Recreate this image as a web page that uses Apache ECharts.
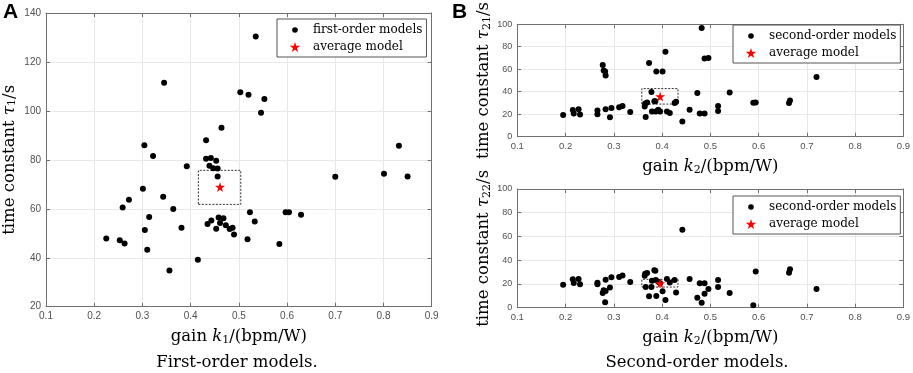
<!DOCTYPE html>
<html>
<head>
<meta charset="utf-8">
<script src="https://cdn.jsdelivr.net/npm/echarts@6/dist/echarts.min.js"></script>
<style>
  html, body { margin: 0; padding: 0; background: #fff; }
  #chart { width: 913px; height: 373px; }
</style>
</head>
<body>
<div id="chart"></div>
<script>
// ── Panel A: first-order models ───────────────────────────────
const k1 = [0.535, 0.345, 0.503, 0.520, 0.553, 0.546, 0.464, 0.432, 0.304, 0.832,
  0.322, 0.432, 0.442, 0.453, 0.392, 0.439, 0.447, 0.456, 0.456, 0.700,
  0.801, 0.850, 0.301, 0.272, 0.343, 0.259, 0.364, 0.523, 0.597, 0.604,
  0.629, 0.458, 0.468, 0.314, 0.443, 0.533, 0.461, 0.435, 0.473, 0.381,
  0.487, 0.481, 0.453, 0.305, 0.490, 0.225, 0.253, 0.518, 0.263, 0.584,
  0.310, 0.415, 0.356]
const tau1 = [130.4, 111.5, 107.6, 106.6, 104.9, 99.2, 93.1, 88.0, 86.0, 85.8,
  81.6, 80.4, 80.8, 79.6, 77.4, 77.6, 76.6, 76.5, 73.2, 73.1,
  74.3, 73.2, 68.2, 63.7, 64.9, 60.5, 59.9, 58.6, 58.6, 58.6,
  57.6, 56.4, 56.1, 56.7, 55.2, 54.8, 54.2, 53.8, 53.3, 52.3,
  52.3, 51.7, 51.8, 51.3, 49.5, 47.9, 47.2, 47.6, 45.8, 45.6,
  43.3, 39.2, 34.8]
const avgA = [0.461, 68.9]
const boxAk = [0.416, 0.504]
const boxAtau = [61.8, 75.7]

// ── Panel B: second-order models (same k2 for both time constants) ──
const k2 = [0.195, 0.215, 0.217, 0.227, 0.230, 0.266, 0.266, 0.283, 0.277, 0.279,
  0.282, 0.283, 0.292, 0.295, 0.311, 0.318, 0.334, 0.364, 0.365, 0.369,
  0.366, 0.373, 0.378, 0.379, 0.384, 0.386, 0.387, 0.392, 0.396, 0.388,
  0.401, 0.407, 0.410, 0.416, 0.426, 0.429, 0.442, 0.457, 0.473, 0.478,
  0.482, 0.488, 0.488, 0.496, 0.516, 0.516, 0.540, 0.589, 0.594, 0.663,
  0.665, 0.720]
const tau21 = [19.4, 23.7, 20.6, 24.5, 19.7, 23.4, 20.0, 24.5, 63.7, 58.9,
  58.0, 54.4, 17.2, 25.6, 26.2, 27.3, 22.0, 26.8, 29.6, 30.4,
  17.5, 65.6, 39.7, 22.5, 31.5, 31.5, 22.5, 23.9, 22.5, 58.0,
  58.0, 75.5, 22.5, 21.1, 29.9, 31.0, 13.5, 23.9, 38.9, 20.6,
  96.6, 20.6, 69.6, 70.1, 27.3, 22.8, 39.2, 30.2, 30.4, 29.9,
  32.1, 53.2]
const tau22 = [19.4, 23.9, 20.8, 24.2, 19.7, 21.1, 19.7, 23.6, 12.4, 14.6,
  4.5, 14.0, 17.1, 25.6, 25.8, 27.2, 21.6, 27.0, 28.7, 29.2,
  17.4, 9.6, 17.4, 22.8, 31.5, 31.2, 23.3, 21.9, 20.5, 9.8,
  13.8, 6.5, 24.2, 21.3, 23.3, 12.9, 65.7, 24.2, 8.4, 20.5,
  4.2, 20.5, 11.8, 15.7, 23.3, 17.4, 12.4, 2.0, 30.6, 29.5,
  32.3, 15.7]
const avgB1 = [0.396, 35.8]
const avgB2 = [0.396, 20.5]
const boxBk = [0.358, 0.433]
const boxB1tau = [29.0, 42.8]
const boxB2tau = [17.4, 23.9]

// axis ranges [min, max, interval]
const kRange = [0.1, 0.9, 0.1]
const tauARange = [20, 140, 20]
const tauBRange = [0, 100, 20]

const SERIF = '"DejaVu Serif", "Liberation Serif", serif'
const SANS = '"Liberation Sans", Arial, sans-serif'
const frameColor = '#707070'
const tickColor = '#505050'
const gridColor = '#e8e8e8'
const STAR = 'path://M50,0 L61,35 L98,35 L68,57 L79,91 L50,70 L21,91 L32,57 L2,35 L39,35 Z'
// legend dot: small circle inside a larger icon box, so it stays smaller than the star
const DOT = 'image://data:image/svg+xml;utf8,' + encodeURIComponent(
  '<svg xmlns="http://www.w3.org/2000/svg" width="20" height="20" viewBox="0 0 20 20"><circle cx="10" cy="10" r="5.6" fill="#000"/></svg>')

const richName = {
  n: { fontFamily: SERIF, fontSize: 16.5, color: '#000' },
  i: { fontFamily: SERIF, fontSize: 16.5, fontStyle: 'italic', color: '#000' },
  s: { fontFamily: SERIF, fontSize: 11, color: '#000', verticalAlign: 'bottom' },
}

function zip(xs, ys) { return xs.map((x, i) => [x, ys[i]]) }
function boxPath(xs, ys) {
  return [[xs[0], ys[0]], [xs[1], ys[0]], [xs[1], ys[1]], [xs[0], ys[1]], [xs[0], ys[0]]]
}

// bottom/left axis with labels + mirrored top/right axis (MATLAB box)
function axisPair(dim, gi, range, name, nameGap, fontSize) {
  const base = {
    gridIndex: gi, type: 'value', min: range[0], max: range[1], interval: range[2],
    axisLine: { show: true, onZero: false, lineStyle: { color: frameColor, width: 1 } },
    axisTick: { show: true, inside: true, length: 4, lineStyle: { color: frameColor } },
  }
  const main = {
    ...base,
    position: dim === 'x' ? 'bottom' : 'left',
    name, nameLocation: 'middle', nameGap,
    nameTextStyle: { rich: richName },
    axisLabel: {
      color: tickColor, fontFamily: SANS, fontSize, margin: 5,
      formatter: v => String(+v.toFixed(1)),
    },
    splitLine: { show: true, lineStyle: { color: gridColor, width: 1 } },
  }
  const mirror = {
    ...base,
    position: dim === 'x' ? 'top' : 'right',
    axisLabel: { show: false },
    splitLine: { show: false },
  }
  return [main, mirror]
}

function legendFor(left, top, dotName) {
  return {
    left, top, orient: 'vertical',
    backgroundColor: '#fff', borderColor: '#555', borderWidth: 1, borderRadius: 0,
    padding: [5, 4, 4, 5], itemGap: 5, itemWidth: 26, itemHeight: 10,
    textStyle: { fontFamily: SERIF, fontSize: 12, color: '#000' },
    selectedMode: false,
    data: [
      { name: dotName, icon: DOT },
      { name: 'average model', icon: STAR, itemStyle: { color: '#ff0000', borderWidth: 0 } },
    ],
  }
}

function panelSeries(xi, yi, dotName, pts, avg, boxK, boxT) {
  return [
    { name: 'box', type: 'line', xAxisIndex: xi, yAxisIndex: yi, data: boxPath(boxK, boxT),
      symbol: 'none', silent: true, z: 2,
      lineStyle: { color: '#333', width: 1, type: [2, 1.5] } },
    { name: dotName, type: 'scatter', xAxisIndex: xi, yAxisIndex: yi, data: pts,
      symbol: 'circle', symbolSize: 6, itemStyle: { color: '#000', opacity: 1 }, z: 3 },
    { name: 'average model', type: 'scatter', xAxisIndex: xi, yAxisIndex: yi, data: [avg],
      symbol: STAR, symbolSize: 10, itemStyle: { color: '#ff0000', opacity: 1 }, z: 4 },
  ]
}

const chart = echarts.init(document.getElementById('chart'), null, { renderer: 'canvas' })

const ax = [
  ...axisPair('x', 0, kRange, '{n|gain }{i|k}{s|1}{n|/(bpm/W)}', 22, 10),
  ...axisPair('x', 1, kRange, '{n|gain }{i|k}{s|2}{n|/(bpm/W)}', 22, 9.5),
  ...axisPair('x', 2, kRange, '{n|gain }{i|k}{s|2}{n|/(bpm/W)}', 22, 9.5),
]
const ay = [
  ...axisPair('y', 0, tauARange, '{n|time constant }{i|τ}{s|1}{n|/s}', 28, 10),
  ...axisPair('y', 1, tauBRange, '{n|time constant }{i|τ}{s|21}{n|/s}', 25, 9),
  ...axisPair('y', 2, tauBRange, '{n|time constant }{i|τ}{s|22}{n|/s}', 25, 9),
]

chart.setOption({
  animation: false,
  backgroundColor: '#fff',
  grid: [
    { left: 45.7, top: 13, width: 386, height: 293.7 },
    { left: 517.3, top: 18.3, width: 388.4, height: 118.4 },
    { left: 517.3, top: 189, width: 388.4, height: 118.7 },
  ],
  xAxis: ax,
  yAxis: ay,
  legend: [
    legendFor(277, 19, 'first-order models'),
    legendFor(733, 25, 'second-order models'),
    legendFor(733, 196, 'second-order models'),
  ],
  series: [
    ...panelSeries(0, 0, 'first-order models', zip(k1, tau1), avgA, boxAk, boxAtau),
    ...panelSeries(2, 2, 'second-order models', zip(k2, tau21), avgB1, boxBk, boxB1tau),
    ...panelSeries(4, 4, 'second-order models', zip(k2, tau22), avgB2, boxBk, boxB2tau),
  ],
  graphic: [
    { type: 'text', x: 3, y: 2, style: { text: 'A', font: 'bold 21px ' + SANS, fill: '#000' } },
    { type: 'text', x: 452, y: 2, style: { text: 'B', font: 'bold 21px ' + SANS, fill: '#000' } },
    { type: 'text', x: 237, y: 363, style: { text: 'First-order models.', font: '16.5px ' + SERIF, fill: '#000', align: 'center', verticalAlign: 'middle' } },
    { type: 'text', x: 697, y: 363, style: { text: 'Second-order models.', font: '16.5px ' + SERIF, fill: '#000', align: 'center', verticalAlign: 'middle' } },
  ],
})
</script>
</body>
</html>
